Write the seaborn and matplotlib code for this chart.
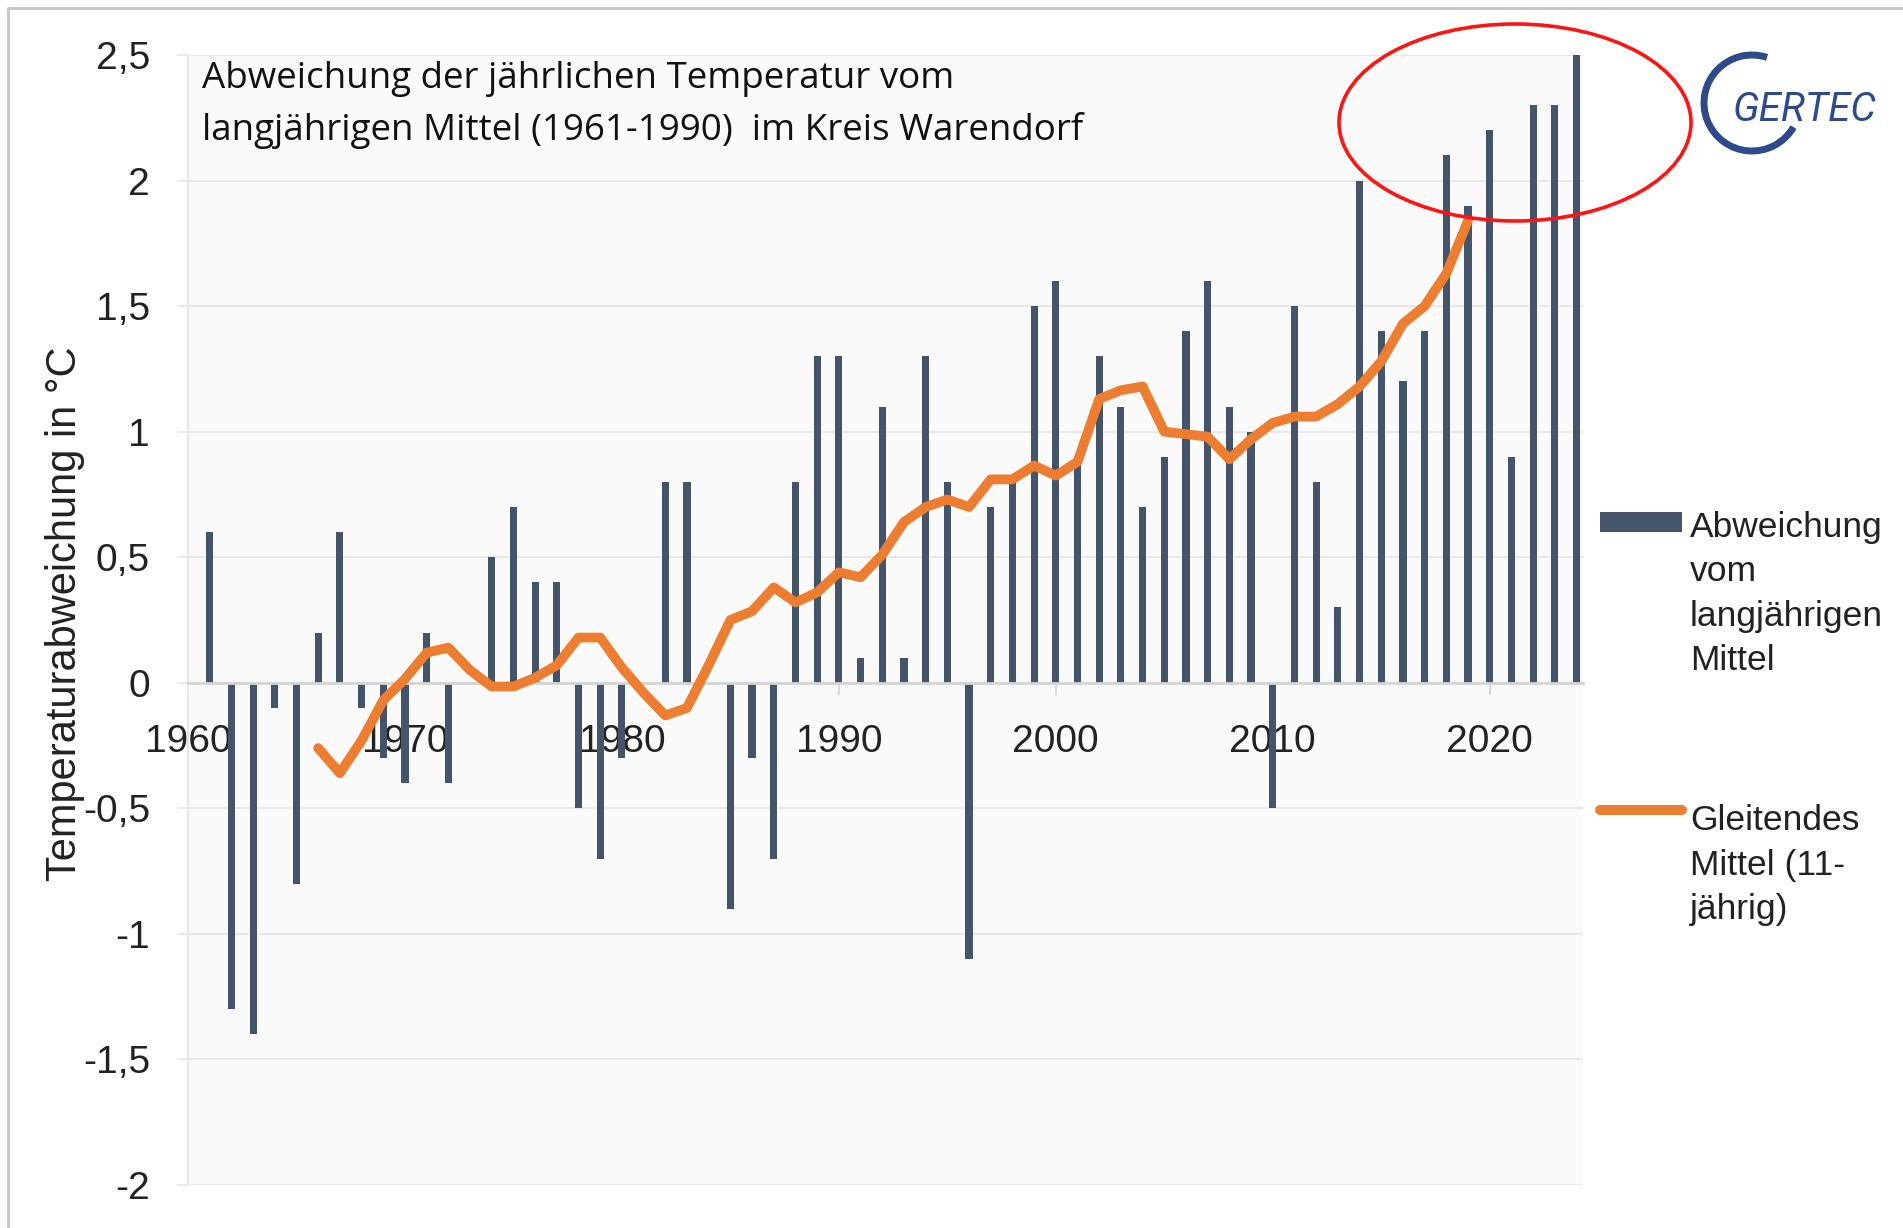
import numpy as np
import pandas as pd
import matplotlib
matplotlib.use("Agg")
import matplotlib.pyplot as plt
from matplotlib.patches import Ellipse, Arc, Rectangle
from matplotlib.lines import Line2D
import seaborn as sns

# ---------------- data ----------------
years = list(range(1961, 2025))
anomaly = [0.6, -1.3, -1.4, -0.1, -0.8, 0.2, 0.6, -0.1, -0.3, -0.4,
           0.2, -0.4, 0.0, 0.5, 0.7, 0.4, 0.4, -0.5, -0.7, -0.3,
           0.0, 0.8, 0.8, 0.0, -0.9, -0.3, -0.7, 0.8, 1.3, 1.3,
           0.1, 1.1, 0.1, 1.3, 0.8, -1.1, 0.7, 0.8, 1.5, 1.6,
           0.9, 1.3, 1.1, 0.7, 0.9, 1.4, 1.6, 1.1, 1.0, -0.5,
           1.5, 0.8, 0.3, 2.0, 1.4, 1.2, 1.4, 2.1, 1.9, 2.2,
           0.9, 2.3, 2.3, 2.5]

ma_years = list(range(1966, 2020))
ma_values = [-0.26, -0.36, -0.23, -0.07, 0.015, 0.12, 0.14, 0.05, -0.015, -0.015,
             0.02, 0.07, 0.18, 0.18, 0.06, -0.04, -0.13, -0.10, 0.07, 0.25,
             0.285, 0.38, 0.32, 0.36, 0.44, 0.42, 0.51, 0.64, 0.70, 0.73,
             0.70, 0.81, 0.81, 0.865, 0.825, 0.88, 1.13, 1.165, 1.18, 1.00,
             0.99, 0.98, 0.89, 0.97, 1.035, 1.06, 1.06, 1.11, 1.18, 1.28,
             1.43, 1.50, 1.63, 1.84]

y_ticks = [2.5, 2, 1.5, 1, 0.5, 0, -0.5, -1, -1.5, -2]
y_tick_labels = ["2,5", "2", "1,5", "1", "0,5", "0", "-0,5", "-1", "-1,5", "-2"]
x_ticks = [1960, 1970, 1980, 1990, 2000, 2010, 2020]
x_tick_labels = ["1960", "1970", "1980", "1990", "2000", "2010", "2020"]
y_label = "Temperaturabweichung in °C"
title_lines = ["Abweichung der jährlichen Temperatur vom",
               "langjährigen Mittel (1961-1990)  im Kreis Warendorf"]
legend_bar_lines = ["Abweichung", "vom", "langjährigen", "Mittel"]
legend_line_lines = ["Gleitendes", "Mittel (11-", "jährig)"]
logo_text = "GERTEC"

# ---------------- style ----------------
BAR = "#44546a"
ORANGE = "#ed7d31"
GRID = "#e8e8e8"
TXT = "#222222"

sns.set_style("white")
plt.rcParams["font.family"] = ["Liberation Sans", "DejaVu Sans"]

W, H = 1903, 1228
fig = plt.figure(figsize=(W / 100, H / 100), dpi=100)
fig.patch.set_facecolor("white")


def fx(px):
    return px / W


def fy(py):
    return 1 - py / H


ax_left, ax_right, ax_top, ax_bottom = 188, 1583, 55, 1185
ax = fig.add_axes([fx(ax_left), fy(ax_bottom),
                   (ax_right - ax_left) / W, (ax_bottom - ax_top) / H])
ax.set_facecolor("#fafafa")
ax.set_axisbelow(True)

df_bar = pd.DataFrame({"Jahr": years, "Abweichung": anomaly})
df_ma = pd.DataFrame({"Jahr": ma_years, "Mittel": ma_values})

sns.barplot(data=df_bar, x="Jahr", y="Abweichung", native_scale=True,
            width=0.33, color=BAR, saturation=1, linewidth=0, ax=ax,
            errorbar=None, zorder=1)
sns.lineplot(data=df_ma, x="Jahr", y="Mittel", color=ORANGE, linewidth=7,
             ax=ax, zorder=3, solid_capstyle="round", solid_joinstyle="round")

ax.set_xlim(1960, 2024.3)
ax.set_ylim(-2, 2.5)
ax.set_yticks(y_ticks, y_tick_labels)
ax.set_xticks(x_ticks, x_tick_labels)
ax.yaxis.grid(True, color=GRID, linewidth=1.5)
ax.xaxis.grid(False)

ax.tick_params(axis="y", left=True, length=8, width=1.5, color=GRID, pad=19.4,
               labelsize=28, labelcolor=TXT)
ax.tick_params(axis="x", bottom=True, length=8.6, width=1.5, color="#d9d9d9",
               pad=21, labelsize=28, labelcolor=TXT, direction="out")

for s in ["top", "right"]:
    ax.spines[s].set_visible(False)
ax.spines["bottom"].set_position(("data", 0))
ax.spines["bottom"].set_color("#d3d3d3")
ax.spines["bottom"].set_linewidth(2)
ax.spines["left"].set_color(GRID)
ax.spines["left"].set_linewidth(1.5)

ax.set_xlabel("")
ax.set_ylabel(y_label, fontsize=30, color=TXT)
ax.yaxis.set_label_coords(-0.0738, 0.506)

# ---------------- title ----------------
title_family = ["Open Sans", "DejaVu Sans"]
fig.text(fx(202), fy(88), title_lines[0], fontsize=26.5, family=title_family,
         color="#111111", va="baseline", ha="left")
fig.text(fx(202), fy(140), title_lines[1], fontsize=26.5, family=title_family,
         color="#111111", va="baseline", ha="left")

# ---------------- legend ----------------
fig.add_artist(Rectangle((fx(1600), fy(532)), 82 / W, 20 / H,
                         transform=fig.transFigure, color=BAR, lw=0))
fig.add_artist(Line2D([fx(1600), fx(1682)], [fy(810), fy(810)],
                      transform=fig.transFigure, color=ORANGE, lw=7.2,
                      solid_capstyle="round"))
for i, t in enumerate(legend_bar_lines):
    fig.text(fx(1690), fy(537 + i * 44.5), t, fontsize=25.5, color=TXT,
             va="baseline", ha="left")
for i, t in enumerate(legend_line_lines):
    fig.text(fx(1690), fy(830 + i * 44.5), t, fontsize=25.5, color=TXT,
             va="baseline", ha="left")

# ---------------- red ellipse ----------------
fig.add_artist(Ellipse((fx(1515), fy(122.5)), 352 / W, 197 / H,
                       transform=fig.transFigure, fill=False,
                       edgecolor="#ff1414", linewidth=2.6))

# ---------------- logo ----------------
LOGO = "#2e4a8a"
fig.add_artist(Arc((fx(1752), fy(103)), 96 / W, 96 / H, theta1=78, theta2=318,
                   transform=fig.transFigure, color=LOGO, linewidth=5))
fig.text(fx(1733), fy(121), logo_text, fontsize=29, style="italic",
         family=["Roboto", "Liberation Sans"], color=LOGO,
         va="baseline", ha="left")

# ---------------- border ----------------
fig.add_artist(Line2D([fx(8), fx(8)], [0, fy(8)], transform=fig.transFigure,
                      color="#c4c4c4", lw=2))
fig.add_artist(Line2D([fx(8), 1], [fy(8), fy(8)], transform=fig.transFigure,
                      color="#c4c4c4", lw=2))

fig.savefig("out.png", dpi=100, facecolor="white")
